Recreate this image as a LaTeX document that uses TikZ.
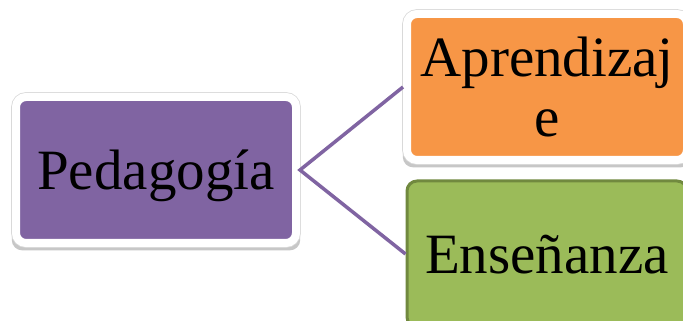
\documentclass[tikz,border=0pt]{standalone}
\usepackage{fontspec}
\setmainfont{Liberation Serif}
\usetikzlibrary{shadows}
\definecolor{pedpurple}{HTML}{8064A2}
\definecolor{aprorange}{HTML}{F79646}
\definecolor{ensgreen}{HTML}{9BBB59}
\definecolor{ensgreendark}{HTML}{71893F}
\tikzset{
  boxbase/.style={rounded corners=10pt, minimum width=280pt, minimum height=146pt,
    inner sep=0pt, align=center, text depth=0pt,
    font=\fontsize{57}{60}\selectfont, text=black},
  whitebox/.style={boxbase, draw=white, line width=8pt,
    drop shadow={shadow xshift=0pt, shadow yshift=-5pt, shadow scale=1.03, opacity=0.22, fill=black},
    preaction={draw=black!15, line width=9.6pt}},
  greenbox/.style={boxbase, draw=ensgreendark, line width=3pt, fill=ensgreen},
  connector/.style={draw=pedpurple, line width=3.5pt}
}
\begin{document}
\begin{tikzpicture}[x=1pt, y=1pt]
  \useasboundingbox (0,0) rectangle (683,321);
  \fill[white] (0,0) rectangle (683,321);
  \clip (0,0) rectangle (683,321);
  \node[whitebox, fill=pedpurple] (ped) at (156,151) {Pedagogía};
  \node[whitebox, fill=aprorange] (apr) at (547,234) {Aprendizaj\\e};
  \node[greenbox] (ens) at (547,67) {Enseñanza};
  \draw[connector] (apr.west) -- (ped.east) -- (ens.west);
\end{tikzpicture}
\end{document}
